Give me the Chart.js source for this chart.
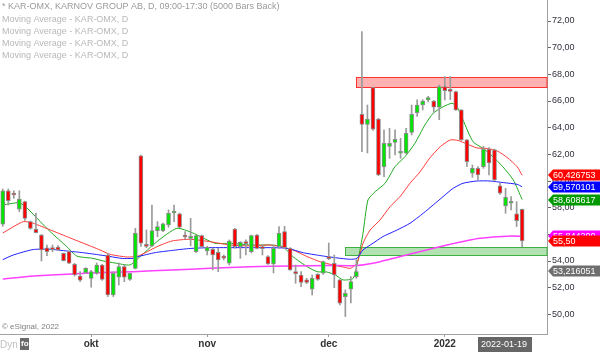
<!DOCTYPE html>
<html>
<head>
<meta charset="utf-8">
<script src="https://cdn.jsdelivr.net/npm/chart.js@4/dist/chart.umd.min.js"></script>
<style>
  html, body { margin: 0; padding: 0; background: #fff; }
  canvas { display: block; }
</style>
</head>
<body>
<canvas id="kar" width="600" height="352"></canvas>
<script>
// daily candles, KAR-OMX (index 0 = first visible bar)
const opens = [56.77,59.27,59.00,57.88,58.45,56.95,56.38,55.95,54.98,54.90,55.05,54.58,54.70,53.75,52.87,53.12,52.70,53.08,53.70,54.45,
  51.45,52.78,53.58,52.62,53.45,61.88,55.15,55.13,56.28,56.28,56.70,57.60,57.53,55.85,55.70,54.70,55.90,54.75,54.88,54.65,
  54.27,53.83,56.40,55.08,55.35,54.70,55.95,54.97,54.33,53.78,55.08,56.20,54.95,53.10,52.95,52.58,51.88,53.00,53.08,54.22,
  53.83,52.58,51.33,51.88,52.83,65.00,64.25,67.00,64.65,61.08,62.60,62.90,62.08,62.08,63.65,65.12,65.70,66.08,66.00,65.53,
  67.08,66.78,66.70,65.33,63.08,60.58,60.95,61.08,62.40,62.33,59.63,58.13,58.33,57.53,57.88];
const highs = [59.40,59.40,59.27,59.27,58.50,57.00,57.60,56.00,55.20,55.20,55.15,54.60,54.75,53.83,53.20,53.50,53.30,53.85,53.75,54.58,
  53.20,53.85,53.70,53.10,56.45,61.95,56.33,58.20,56.95,56.85,57.83,58.20,57.60,56.20,57.20,55.95,55.95,55.10,54.95,54.95,
  54.45,55.58,56.45,55.45,55.58,55.95,56.00,55.20,54.40,55.20,56.58,56.60,55.00,53.70,53.20,52.70,52.95,53.05,54.00,55.35,
  54.45,52.60,51.83,52.83,54.08,71.20,65.70,67.05,64.70,63.83,63.95,63.83,63.20,63.95,65.70,66.08,66.10,66.35,66.05,67.20,
  67.83,67.83,66.75,65.35,63.10,61.20,61.08,62.60,62.50,62.40,59.83,59.45,58.83,58.45,57.90];
const lows = [56.60,58.20,58.70,57.70,57.05,56.38,56.10,54.00,54.40,54.70,54.80,54.00,53.80,52.87,52.45,53.05,52.03,53.00,52.55,51.33,
  51.33,52.20,52.45,52.55,53.40,55.10,55.00,55.08,55.83,56.20,56.53,56.95,56.50,55.63,55.13,54.65,55.00,54.45,53.33,53.20,
  54.08,53.70,54.95,54.20,54.45,54.60,54.90,54.45,53.75,53.10,54.95,54.95,53.30,52.33,52.08,52.30,51.45,52.55,53.00,54.10,
  52.00,50.70,49.83,50.85,52.70,62.20,62.10,63.80,60.40,60.33,61.70,61.95,61.70,62.05,63.45,64.85,65.33,65.95,65.20,64.60,
  66.08,66.10,65.30,63.05,61.08,60.28,60.08,60.95,60.45,60.00,59.00,57.58,57.83,56.58,55.08];
const closes = [59.27,58.52,58.95,58.65,57.20,56.45,56.12,54.83,54.70,54.85,54.83,54.02,53.83,52.95,52.57,53.45,53.20,53.70,52.62,51.45,
  53.08,53.58,52.78,53.08,56.08,55.33,55.10,56.28,56.58,56.78,57.58,57.65,56.53,55.80,55.75,55.90,55.08,55.03,54.45,54.08,
  54.22,55.50,55.08,55.40,55.30,55.90,54.95,54.93,53.78,54.95,56.08,55.00,53.33,53.05,52.40,52.40,52.70,52.62,53.95,54.18,
  52.95,50.83,51.58,52.45,53.20,64.25,64.65,63.88,60.45,62.83,62.83,63.12,62.20,63.58,65.00,65.70,66.00,66.25,65.53,67.08,
  66.78,66.72,65.33,63.08,61.45,60.95,60.45,62.40,61.35,60.08,59.08,58.78,58.45,57.03,55.50];

// moving averages: [bar index, value]
const maFast = [[0,58.20],[3,58.37],[4.4,57.97],[6.8,56.95],[8.6,56.20],[11.6,55.07],[13.4,54.37],[16.3,54.20],[18.2,54.00],
  [20.3,53.85],[23,53.70],[24.5,54.20],[27.9,55.45],[31.5,56.45],[34.3,56.12],[38.4,55.33],[41.1,55.33],[44.8,55.20],
  [48.4,55.20],[50.7,55.07],[52.5,54.33],[55.1,53.57],[56.9,53.20],[58.7,53.17],[60.2,52.95],[61.6,52.58],[63.4,52.70],
  [64.3,54.07],[65.2,56.08],[66.1,58.58],[67.4,59.20],[69.2,59.83],[71,61.08],[72.8,61.83],[74.6,62.83],[76.4,64.20],
  [77.9,65.08],[79.7,65.57],[81.3,65.83],[82.2,65.57],[83.3,64.58],[85.1,62.95],[86.9,62.45],[88.7,61.83],[90.5,61.07],
  [92.4,60.08],[94,58.61]];
const maMid = [[0,56.10],[3.7,56.95],[5.5,56.83],[8.6,56.33],[11.6,55.83],[14.6,55.33],[17.6,54.83],[19.4,54.50],[22.5,54.30],
  [24.5,54.37],[27.9,55.07],[30.6,55.50],[33.9,55.63],[37.5,55.45],[41.1,55.20],[44.8,55.13],[48.4,55.20],[50.2,55.07],
  [52.5,54.83],[55.1,54.33],[57.4,53.95],[59.8,53.70],[61.6,53.55],[62.9,53.45],[64.1,53.83],[65.2,55.33],[66.5,56.33],
  [68.3,57.08],[70.1,58.08],[71.9,58.83],[73.7,59.83],[75.5,60.68],[77.3,61.73],[79.2,62.58],[81,63.08],[82.4,63.04],
  [84,62.78],[85.8,62.48],[87.7,62.44],[89.5,62.25],[91.3,61.76],[93.1,61.07],[94,60.43]];
const maSlow = [[0,54.10],[1.9,54.45],[5.5,54.86],[8.6,54.88],[11.6,54.75],[14.6,54.62],[17.6,54.45],[19.4,54.34],[21.6,54.19],
  [23.6,54.20],[24.5,54.33],[27.6,54.63],[30.6,54.79],[33.9,54.94],[37.5,55.00],[42.4,55.00],[48.4,55.00],[51.5,54.95],
  [54.4,54.62],[57.4,54.41],[60.5,54.23],[62.9,54.13],[64.1,54.20],[65.2,54.83],[67,55.33],[68.8,55.83],[71.4,56.33],
  [73.7,56.83],[76.1,57.58],[77.9,58.20],[79.7,58.83],[81.5,59.45],[83.3,59.83],[85.8,60.00],[88.2,60.00],[90.6,59.88],
  [93.1,59.75],[94,59.57]];
const maLong = [[0,52.65],[5.5,52.88],[11.6,53.01],[18.5,53.14],[23.6,53.20],[30.6,53.33],[37.5,53.45],[44.8,53.57],[52,53.63],
  [59.2,53.66],[64.1,53.66],[68.3,53.95],[74.3,54.58],[80.4,55.20],[86.4,55.70],[92.2,55.88],[94,55.84]];

const monthTicks = [16, 37, 59, 80];
const monthLabels = ['okt', 'nov', 'dec', '2022'];
const yTicks = [50, 52, 54, 56, 58, 60, 62, 64, 66, 68, 70, 72];

// right-hand value tags
const tagValues = [60.426753, 59.570101, 58.608617, 55.844290, 55.50, 53.216051];
const tagLabels = ['60,426753', '59,570101', '58,608617', '55,844290', '55,50', '53,216051'];
const tagColors = ['#ff0000', '#0000ff', '#009900', '#ff00ff', '#ff0000', '#6e6e6e'];

// support / resistance zones: [first bar, low, high]
const resistZone = [63.9, 67.05, 67.78];
const supportZone = [62.0, 54.45, 55.07];

const legendLines = [
  '* KAR-OMX, KARNOV GROUP AB, D, 09:00-17:30 (5000 Bars Back)',
  'Moving Average - KAR-OMX, D',
  'Moving Average - KAR-OMX, D',
  'Moving Average - KAR-OMX, D',
  'Moving Average - KAR-OMX, D'
];
const lastDate = '2022-01-19';

const FONT = "'Liberation Sans', Arial, sans-serif";
const UP = '#00e600', DOWN = '#ff0000';

const toXY = arr => arr.map(p => ({ x: p[0], y: p[1] }));
const maLine = (data, color, width) => ({
  type: 'line', data: toXY(data), borderColor: color, borderWidth: width,
  pointRadius: 0, tension: 0.2, order: 3
});

const overlay = {
  id: 'overlay',
  beforeDatasetsDraw(chart) {
    const { ctx, chartArea: ca, scales: { x, y } } = chart;
    const zone = (z, fill, stroke) => {
      const x0 = Math.round(x.getPixelForValue(z[0])) + 0.5;
      const y0 = Math.round(y.getPixelForValue(z[2])) + 0.5;
      const y1 = Math.round(y.getPixelForValue(z[1])) + 0.5;
      ctx.fillStyle = fill;
      ctx.fillRect(x0, y0, ca.right - x0, y1 - y0);
      ctx.strokeStyle = stroke;
      ctx.lineWidth = 1;
      ctx.strokeRect(x0, y0, ca.right - x0, y1 - y0);
    };
    ctx.save();
    zone(resistZone, 'rgba(255,0,0,0.3)', '#ff3030');
    zone(supportZone, 'rgba(0,160,0,0.3)', '#40b040');
    ctx.restore();
  },
  afterDraw(chart) {
    const { ctx, chartArea: ca, scales: { y } } = chart;
    ctx.save();
    ctx.textBaseline = 'middle';
    ctx.textAlign = 'left';

    // legend lines
    ctx.font = '9px ' + FONT;
    legendLines.forEach((t, k) => {
      ctx.fillStyle = k === 0 ? '#9a9a9a' : '#b8b8b8';
      ctx.fillText(t, 2, k === 0 ? 7 : 20 + (k - 1) * 12);
    });

    // copyright
    ctx.font = '8px ' + FONT;
    ctx.fillStyle = '#808080';
    ctx.fillText('\u00a9 eSignal, 2022', 2, 327);

    // Dyn + icon
    ctx.font = '10px ' + FONT;
    ctx.fillStyle = '#c0c0c0';
    ctx.fillText('Dyn', 0, 345);
    ctx.fillStyle = '#6a6a6a';
    ctx.fillRect(20, 338, 9, 12);
    ctx.fillStyle = '#fff';
    ctx.font = 'bold 8px ' + FONT;
    ctx.fillText('fo', 21, 344);

    // date box
    ctx.font = '9px ' + FONT;
    ctx.fillStyle = '#666666';
    ctx.fillRect(478, 337, 54, 15);
    ctx.fillStyle = '#fff';
    ctx.fillText(lastDate, 481, 345);

    // value tags on the axis
    ctx.font = '9px ' + FONT;
    tagValues.forEach((v, k) => {
      const py = Math.round(y.getPixelForValue(v));
      const x0 = ca.right + 1;
      ctx.fillStyle = tagColors[k];
      ctx.beginPath();
      ctx.moveTo(x0, py);
      ctx.lineTo(x0 + 5, py - 5.5);
      ctx.lineTo(600, py - 5.5);
      ctx.lineTo(600, py + 5.5);
      ctx.lineTo(x0 + 5, py + 5.5);
      ctx.closePath();
      ctx.fill();
      ctx.fillStyle = '#fff';
      ctx.fillText(tagLabels[k], x0 + 5, py + 0.5);
    });
    ctx.restore();
  }
};

new Chart(document.getElementById('kar'), {
  type: 'bar',
  data: {
    datasets: [
      {
        label: 'wick',
        data: opens.map((o, i) => ({ x: i, y: [lows[i], highs[i]] })),
        backgroundColor: '#9a9a9a',
        barThickness: 1,
        grouped: false,
        order: 2
      },
      {
        label: 'body',
        data: opens.map((o, i) => ({ x: i, y: [o, closes[i]] })),
        backgroundColor: c => closes[c.dataIndex] >= opens[c.dataIndex] ? UP : DOWN,
        borderColor: '#8c8c8c',
        borderWidth: 1,
        borderSkipped: false,
        barThickness: 4,
        minBarLength: 2,
        grouped: false,
        order: 1
      },
      maLine(maLong, '#ff40ff', 1.5),
      maLine(maSlow, '#2020ff', 1),
      maLine(maMid, '#ff3a3a', 1),
      maLine(maFast, '#1fa81f', 1)
    ]
  },
  options: {
    responsive: false,
    animation: false,
    layout: { padding: 0 },
    plugins: { legend: { display: false }, tooltip: { enabled: false } },
    scales: {
      x: {
        type: 'linear',
        min: -0.5,
        max: 98.5,
        offset: false,
        afterBuildTicks: s => { s.ticks = monthTicks.map(v => ({ value: v })); },
        afterFit: s => { s.height = 18; s.paddingLeft = 0; s.paddingRight = 0; },
        ticks: {
          callback: (v, i) => monthLabels[i],
          font: { family: FONT, size: 10, weight: 'bold' },
          color: '#333333',
          padding: 1,
          maxRotation: 0,
          autoSkip: false
        },
        grid: { drawOnChartArea: false, offset: false, tickLength: 3, tickColor: '#999' },
        border: { color: '#a0a0a0' }
      },
      y: {
        position: 'right',
        min: 48.525,
        max: 73.575,
        afterBuildTicks: s => { s.ticks = yTicks.map(v => ({ value: v })); },
        afterFit: s => { s.width = 53; s.paddingTop = 0; s.paddingBottom = 0; },
        ticks: {
          callback: v => v.toFixed(2).replace('.', ','),
          font: { family: FONT, size: 9 },
          color: '#30303c',
          padding: 1
        },
        grid: { drawOnChartArea: false, tickLength: 4, tickColor: '#666' },
        border: { color: '#a0a0a0' }
      }
    }
  },
  plugins: [overlay]
});
</script>
</body>
</html>
